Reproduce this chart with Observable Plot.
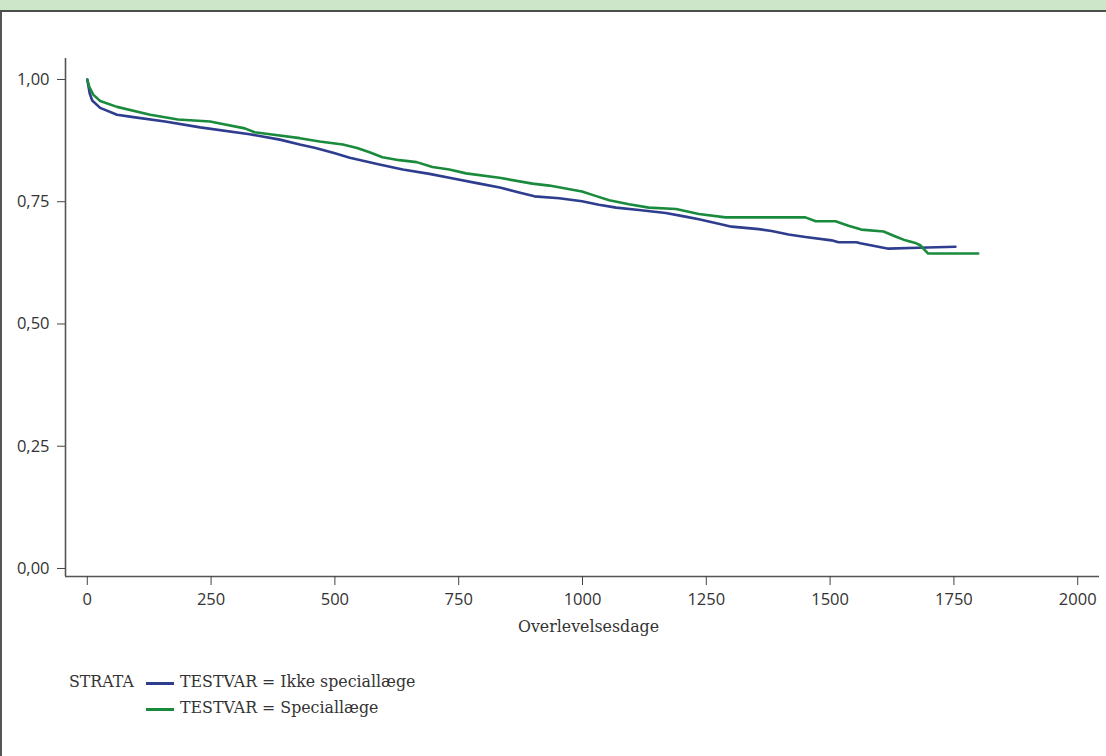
<!DOCTYPE html>
<html><head><meta charset="utf-8">
<script src="https://cdn.jsdelivr.net/npm/d3@7"></script>
<script src="https://cdn.jsdelivr.net/npm/@observablehq/plot@0.6"></script>
<style>
html,body{margin:0;padding:0;background:#fff;overflow:hidden;}
#wrap{position:relative;width:1106px;height:756px;overflow:hidden;background:#fff;}
#header{position:absolute;left:0;top:0;width:1106px;height:10px;background:#cde6c9;border-bottom:2px solid #4d4d4d;}
#lborder{position:absolute;left:0;top:12px;width:2px;height:744px;background:#555;}
#chart{position:absolute;left:0;top:0;}
.lg{position:absolute;font-family:"DejaVu Serif",serif;font-size:15.8px;color:#333;line-height:20px;white-space:nowrap;}
.sw{position:absolute;height:2.5px;width:28px;}
</style></head>
<body>
<div id="wrap">
  <div id="chart"></div>
  <div id="header"></div>
  <div id="lborder"></div>
</div>
<script>
// ---- data ----
const seriesNames = ["TESTVAR = Ikke speciallæge", "TESTVAR = Speciallæge"];
const seriesColors = ["#2e3d8e", "#1a8b3d"];
const legendTitle = "STRATA";
const xLabel = "Overlevelsesdage";

const ikkeDays = [0,5,10,26,60,93,157,228,328,389,429,461,500,530,590,637,691,731,792,833,872,903,953,999,1033,1068,1114,1168,1205,1235,1275,1301,1356,1382,1416,1450,1503,1517,1553,1561,1618,1678,1753];
const ikkeSurv = [1.000,0.971,0.957,0.942,0.928,0.923,0.914,0.902,0.888,0.877,0.867,0.860,0.849,0.840,0.826,0.816,0.807,0.799,0.787,0.779,0.769,0.761,0.757,0.751,0.744,0.738,0.733,0.727,0.720,0.714,0.705,0.699,0.694,0.690,0.683,0.678,0.671,0.667,0.667,0.665,0.654,0.656,0.658];

const specDays = [0,4,12,26,60,127,183,248,268,318,338,369,429,469,516,545,570,596,630,665,697,731,765,832,899,933,999,1023,1054,1094,1134,1189,1235,1289,1336,1450,1471,1511,1537,1563,1608,1632,1652,1674,1682,1698,1799];
const specSurv = [1.000,0.985,0.969,0.956,0.944,0.928,0.918,0.914,0.910,0.900,0.892,0.888,0.880,0.873,0.867,0.860,0.851,0.841,0.835,0.831,0.821,0.816,0.808,0.799,0.787,0.783,0.771,0.763,0.753,0.745,0.738,0.735,0.725,0.718,0.718,0.718,0.710,0.710,0.701,0.693,0.689,0.679,0.671,0.665,0.661,0.644,0.644];

const xTicks = [0,250,500,750,1000,1250,1500,1750,2000];
const yTicks = [0,0.25,0.5,0.75,1.0];
const xDomain = [-44, 2044];
const yDomain = [-0.0164, 1.0429];

// ---- build table ----
const data = [];
ikkeDays.forEach((d,i)=>data.push({series: seriesNames[0], day: d, surv: ikkeSurv[i]}));
specDays.forEach((d,i)=>data.push({series: seriesNames[1], day: d, surv: specSurv[i]}));

const fmt = d => d.toFixed(2).replace(".", ",");

const chart = Plot.plot({
  width: 1106, height: 650,
  marginTop: 58, marginLeft: 65, marginRight: 7, marginBottom: 74,
  style: {fontFamily: "'Open Sans', sans-serif", fontSize: "16.5px", color: "#333", background: "transparent"},
  x: {domain: xDomain},
  y: {domain: yDomain},
  color: {domain: seriesNames, range: seriesColors},
  marks: [
    Plot.ruleX([xDomain[0]], {stroke: "#555", strokeWidth: 1.6}),
    Plot.ruleY([yDomain[0]], {stroke: "#555", strokeWidth: 1.6}),
    Plot.axisX(xTicks, {anchor: "bottom", tickSize: 9, tickPadding: 8, stroke: "#444", fill: "#333", fontSize: 16.5, label: null, tickFormat: d => String(d)}),
    Plot.axisY(yTicks, {anchor: "left", tickSize: 8, tickPadding: 8, stroke: "#444", fill: "#333", fontSize: 16.5, label: null, tickFormat: fmt}),
    Plot.text([xLabel], {frameAnchor: "bottom", lineAnchor: "bottom", dy: 55, dx: 6, fontFamily: "DejaVu Serif", fontSize: 15.8, fill: "#333", text: d => d}),
    Plot.line(data, {x: "day", y: "surv", z: "series", stroke: "series", strokeWidth: 2.6, curve: "linear"})
  ]
});
document.getElementById("chart").appendChild(chart);

// ---- legend ----
const wrap = document.getElementById("wrap");
const t = document.createElement("div");
t.className = "lg"; t.textContent = legendTitle;
t.style.left = "69px"; t.style.top = (683 - 11) + "px";
wrap.appendChild(t);
seriesNames.forEach((name, i) => {
  const cy = 683 + i * 26;
  const sw = document.createElement("div");
  sw.className = "sw"; sw.style.background = seriesColors[i];
  sw.style.left = "146px"; sw.style.top = (cy - 1) + "px";
  wrap.appendChild(sw);
  const lb = document.createElement("div");
  lb.className = "lg"; lb.textContent = name;
  lb.style.left = "180px"; lb.style.top = (cy - 11) + "px";
  wrap.appendChild(lb);
});
</script>
</body></html>
